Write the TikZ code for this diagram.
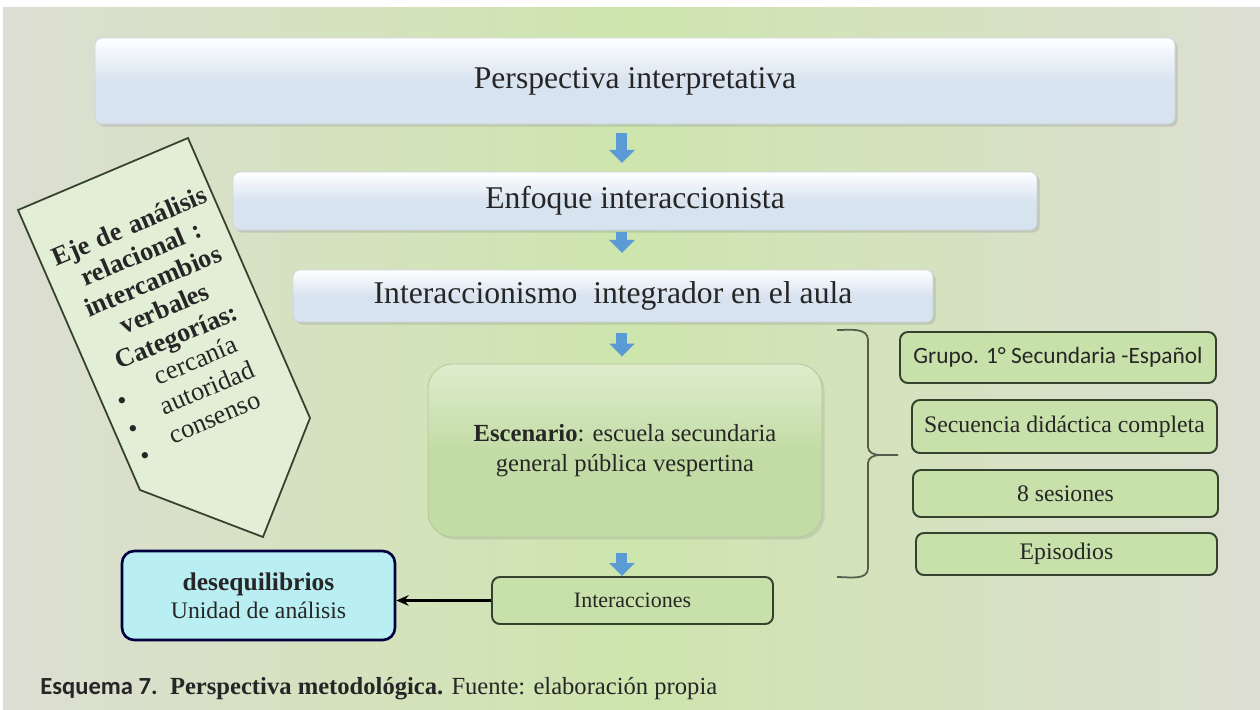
\documentclass[tikz,border=0pt]{standalone}
\usepackage{fontspec}
\setmainfont{Liberation Serif}
\newfontfamily\calibrifont{Carlito}
\usetikzlibrary{arrows.meta,shadows}
\definecolor{bggrey}{HTML}{DDDED3}
\definecolor{bggreen}{HTML}{CEE5AE}
\definecolor{boxblue}{HTML}{D8E3F0}
\definecolor{boxgreen}{HTML}{C8E0A9}
\definecolor{scengreen}{HTML}{C3DCA6}
\definecolor{cyanfill}{HTML}{B9EEF2}
\definecolor{arrowblue}{HTML}{5B9BD5}
\definecolor{edgegreen}{HTML}{34412C}
\definecolor{pentfill}{HTML}{E3EED6}

\begin{document}
\begin{tikzpicture}[scale=0.2]
        \tikzstyle{every node}+=[inner sep=0pt, text=black!85]
        \tikzstyle{topbox}=[rounded corners=4pt, top color=white, bottom color=boxblue, middle color=boxblue, draw=boxblue!85!gray, line width=0.4pt, drop shadow={shadow xshift=1.5pt, shadow yshift=-1.5pt, opacity=0.25}, font=\fontsize{18}{21}\selectfont]
        \tikzstyle{scenbox}=[rounded corners=14pt, top color=boxgreen!60!white, bottom color=scengreen, middle color=scengreen, draw=scengreen!80!gray, line width=0.5pt, drop shadow={shadow xshift=1.5pt, shadow yshift=-1.5pt, opacity=0.2}, align=center, font=\fontsize{14}{17}\selectfont]
        \tikzstyle{greenbox}=[rounded corners=4.5pt, fill=boxgreen, draw=edgegreen, line width=1.1pt, font=\fontsize{13.5}{16}\selectfont]
        \tikzstyle{bluearrow}=[draw=arrowblue, line width=0.22cm, -{Triangle[width=0.5cm,length=0.26cm]}]
        % background
        \useasboundingbox (0,0) rectangle (126,-70.9);
        \fill [white] (0,0) rectangle (126,-70.9);
        \shade [left color=bggrey, right color=bggrey, middle color=bggreen] (0.3,-0.7) rectangle (126,-70.9);
        % main column
        \node [topbox, minimum width=21.6cm, minimum height=1.72cm] (persp) at (63.5,-8.1) {Perspectiva interpretativa};
        \node [topbox, minimum width=16.08cm, minimum height=1.16cm] (enfoque) at (63.5,-20.1) {Enfoque interaccionista};
        \node [topbox, minimum width=12.8cm, minimum height=1.04cm] (integ) at (61.3,-29.6) {Interaccionismo\ \ integrador en el aula};
        \node [scenbox, minimum width=7.88cm, minimum height=3.46cm] (escen) at (62.5,-45.05) {\textbf{Escenario}: escuela secundaria\\general pública vespertina};
        \node [greenbox, minimum width=5.62cm, minimum height=0.94cm, font=\fontsize{12.5}{15}\selectfont] (interac) at (63.25,-60.05) {Interacciones};
        \node [rounded corners=7pt, fill=cyanfill, draw=black!75!blue, line width=1.5pt, minimum width=5.46cm, minimum height=1.78cm, align=center, font=\fontsize{13.5}{16}\selectfont] (deseq) at (25.85,-59.55) {{\fontsize{14.5}{16}\selectfont\textbf{desequilibrios}}\\Unidad de análisis};
        % blue arrows
        \coordinate (ax) at (62.2,0);
        \draw [bluearrow, shorten <=5pt, shorten >=5pt] (ax |- persp.south) -- (ax |- enfoque.north);
        \draw [bluearrow, shorten <=1pt, shorten >=9.5pt] (ax |- enfoque.south) -- (ax |- integ.north);
        \draw [bluearrow, shorten <=6pt, shorten >=4pt] (ax |- integ.south) -- (ax |- escen.north);
        \draw [bluearrow, shorten <=9pt] (ax |- escen.south) -- (ax |- interac.north);
        \draw [black, line width=1.4pt, -{Stealth[length=7pt,width=6pt]}] (interac.west) -- (interac.west -| deseq.east);
        % right column
        \node [greenbox, minimum width=6.32cm, minimum height=1.02cm, font=\calibrifont\fontsize{13.3}{15}\selectfont] (grupo) at (105.8,-35.75) {Grupo. 1° Secundaria -Español};
        \node [greenbox, minimum width=6.1cm, minimum height=1.06cm] (secuen) at (106.45,-42.65) {Secuencia didáctica completa};
        \node [greenbox, minimum width=6.1cm, minimum height=0.94cm] (sesion) at (106.55,-49.35) {8 sesiones};
        \node [greenbox, minimum width=6.02cm, minimum height=0.84cm] (episod) at (106.65,-55.4) {Episodios};
        \draw [edgegreen!85, line width=1pt] (83.7,-33.0) to[out=0,in=90] (86.8,-34.0) -- (86.8,-44.7) to[out=-90,in=180] (88.0,-45.5) -- (89.8,-45.5);
        \draw [edgegreen!85, line width=1pt] (88.0,-45.5) to[out=180,in=90] (86.8,-46.3) -- (86.8,-56.8) to[out=-90,in=0] (83.7,-57.7);
        % left arrow panel
        \coordinate (pA) at (1.8,-21.0);
        \coordinate (pB) at (18.8,-13.8);
        \coordinate (pC) at (31.0,-41.8);
        \coordinate (pE) at (26.3,-53.7);
        \coordinate (pD) at (14.0,-49.0);
        \draw [edgegreen, fill=pentfill, line width=1pt] (pA) -- (pB) -- (pC) -- (pE) -- (pD) -- cycle;
        \node [rotate=23, align=center, text width=3.5cm, font=\fontsize{15}{17}\selectfont] (ejetxt) at (17.2,-32.6) {\textbf{Eje de análisis}\\\textbf{relacional :}\\\textbf{intercambios}\\\textbf{verbales}\\\textbf{Categorías:}\\\hspace*{0.15cm}\raisebox{-5pt}{\textbullet}\hfill cercanía\hfill\hspace*{0.2cm}\\\hspace*{0.15cm}\raisebox{-5pt}{\textbullet}\hfill autoridad\hfill\hspace*{0.2cm}\\\hspace*{0.15cm}\raisebox{-5pt}{\textbullet}\hfill consenso\hfill\hspace*{0.2cm}};
        % caption
        \node [anchor=base west, font=\fontsize{14}{16}\selectfont] (caption) at (4.0,-69.4) {{\calibrifont\bfseries Esquema 7.}\ \ \textbf{Perspectiva metodológica.} Fuente: elaboración propia};
\end{tikzpicture}
\end{document}
